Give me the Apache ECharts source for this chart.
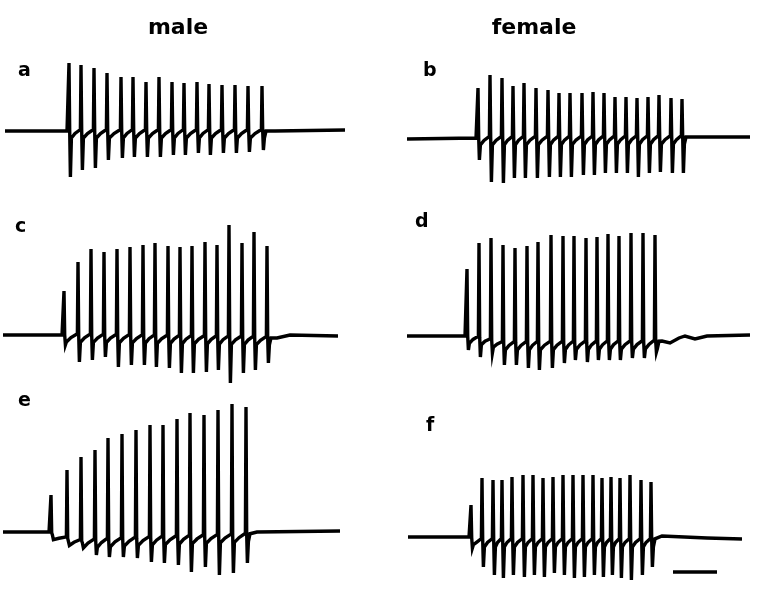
<!DOCTYPE html>
<html>
<head>
<meta charset="utf-8">
<script src="https://cdn.jsdelivr.net/npm/echarts@6/dist/echarts.min.js"></script>
<style>
html,body{margin:0;padding:0;background:#fff;}
#chart{width:757px;height:595px;}
</style>
</head>
<body>
<div id="chart"></div>
<script>
// ---- Data (time in arbitrary units from trace start; amplitude relative to resting baseline) ----
const columnTitles = ['male', 'female'];
const panelLabels = ['a', 'b', 'c', 'd', 'e', 'f'];

// panel a (male)
const a_times = [64, 76, 89, 102, 116, 128, 141, 154, 167, 179, 192, 204, 217, 230, 243, 257];
const a_up    = [68, 66, 63, 58, 54, 54, 49, 54, 49, 48, 49, 47, 46, 46, 45, 45];
const a_down  = [46, 39, 37, 29, 27, 26, 26, 26, 24, 24, 22, 24, 22, 22, 21, 19];
const a_base  = [[0, 0], [62, 0], [270, 0], [340, 1]];

// panel b (female)
const b_times = [71, 83, 95, 106, 117, 129, 141, 152, 163, 175, 186, 197, 208, 219, 230, 241, 252, 264, 275];
const b_up    = [50, 63, 60, 52, 55, 50, 48, 45, 45, 45, 46, 45, 41, 41, 40, 41, 43, 40, 39];
const b_down  = [22, 44, 45, 40, 40, 40, 39, 39, 39, 37, 37, 35, 35, 35, 39, 35, 34, 35, 35];
const b_base  = [[0, -1], [69, 0], [285, 1], [343, 1]];

// panel c (male)
const c_times = [59, 73, 86, 99, 112, 125, 138, 150, 163, 175, 187, 200, 212, 224, 237, 249, 262];
const c_up    = [44, 73, 86, 83, 86, 88, 90, 92, 89, 88, 89, 93, 90, 110, 92, 103, 89];
const c_down  = [10, 27, 25, 22, 32, 30, 30, 32, 33, 38, 38, 37, 35, 48, 38, 35, 28];
const c_base  = [[-2, 0], [57, 0], [272, -3], [285, 0], [333, -1]];

// panel d (female)
const d_times = [60, 72, 84, 96, 108, 120, 131, 144, 156, 167, 179, 190, 201, 212, 224, 236, 248];
const d_up    = [67, 93, 98, 91, 88, 90, 94, 101, 100, 100, 98, 99, 102, 100, 103, 103, 101];
const d_down  = [14, 21, 17, 29, 29, 32, 34, 32, 27, 24, 26, 24, 24, 24, 22, 22, 16];
const d_base  = [[0, 0], [58, 0], [75, -2], [95, -7], [240, -6], [255, -5], [263, -7], [272, -2], [278, 0], [288, -3], [300, 0], [343, 1]];

// panel e (male)
const e_times = [46, 62, 76, 90, 103, 117, 131, 145, 158, 172, 185, 199, 213, 227, 241];
const e_up    = [37, 62, 75, 82, 94, 98, 102, 107, 107, 113, 119, 117, 122, 128, 125];
const e_down  = [3, 5, 11, 23, 25, 25, 26, 30, 31, 33, 40, 35, 43, 41, 31];
const e_base  = [[-2, 0], [44, 0], [60, -6], [75, -9], [140, -6], [240, -3], [252, 0], [335, 1]];

// panel f (female)
const f_times = [64, 75, 86, 95, 105, 116, 126, 136, 146, 156, 166, 176, 186, 195, 204, 213, 223, 234, 244];
const f_up    = [32, 59, 57, 57, 60, 62, 62, 59, 60, 62, 62, 62, 62, 59, 60, 59, 62, 57, 55];
const f_down  = [11, 30, 38, 41, 38, 40, 38, 40, 36, 38, 41, 40, 38, 40, 38, 41, 43, 38, 30];
const f_base  = [[1, 0], [62, 0], [70, -3], [245, -3], [255, 1], [300, -1], [335, -2]];

// time scale bar (panel f)
const scaleBarStart = 266;
const scaleBarLength = 44;
const scaleBarLevel = -35;

// ---- build traces ----
function baseAt(knots, t) {
  if (t <= knots[0][0]) return knots[0][1];
  for (let i = 1; i < knots.length; i++) {
    if (t <= knots[i][0]) {
      const [t0, v0] = knots[i - 1], [t1, v1] = knots[i];
      return v0 + (v1 - v0) * (t - t0) / (t1 - t0);
    }
  }
  return knots[knots.length - 1][1];
}
function buildTrace(knots, times, ups, downs) {
  const pts = [];
  knots.forEach(k => { if (k[0] < times[0] - 1) pts.push(k); });
  for (let i = 0; i < times.length; i++) {
    const t = times[i];
    const b = baseAt(knots, t);
    pts.push([t - 0.6, b + 1.5]);
    pts.push([t, ups[i]]);
    pts.push([t + 0.7, b]);
    pts.push([t + 1.4, -downs[i]]);
    pts.push([t + 2.4, b - 7]);
    if (i + 1 < times.length) {
      const m = (t + times[i + 1]) / 2;
      pts.push([m, baseAt(knots, m) - 2.5]);
    }
  }
  const last = times[times.length - 1];
  pts.push([last + 4, baseAt(knots, last + 4)]);
  knots.forEach(k => { if (k[0] > last + 4) pts.push(k); });
  return pts;
}

const panels = [
  { base: 131, left: 5,   trace: buildTrace(a_base, a_times, a_up, a_down) },
  { base: 138, left: 407, trace: buildTrace(b_base, b_times, b_up, b_down) },
  { base: 335, left: 5,   trace: buildTrace(c_base, c_times, c_up, c_down) },
  { base: 336, left: 407, trace: buildTrace(d_base, d_times, d_up, d_down) },
  { base: 532, left: 5,   trace: buildTrace(e_base, e_times, e_up, e_down) },
  { base: 537, left: 407, trace: buildTrace(f_base, f_times, f_up, f_down) }
];

const grids = [], xAxes = [], yAxes = [], series = [];
panels.forEach((p, i) => {
  grids.push({ left: p.left, top: p.base - 130, width: 345, height: 180 });
  xAxes.push({ type: 'value', gridIndex: i, min: 0, max: 345, show: false });
  yAxes.push({ type: 'value', gridIndex: i, min: -50, max: 130, show: false });
  series.push({
    type: 'line', xAxisIndex: i, yAxisIndex: i, data: p.trace,
    showSymbol: false, symbol: 'none', silent: true, clip: false,
    lineStyle: { color: '#000', width: 3.4, join: 'miter' }, animation: false
  });
});
series.push({
  type: 'line', xAxisIndex: 5, yAxisIndex: 5,
  data: [[scaleBarStart, scaleBarLevel], [scaleBarStart + scaleBarLength, scaleBarLevel]],
  showSymbol: false, symbol: 'none', silent: true,
  lineStyle: { color: '#000', width: 3.5 }, animation: false
});

const labelPos = [[18, 81], [423, 81], [15, 237], [415, 232], [18, 411], [426, 436]];
const graphics = [
  { type: 'text', x: 178, y: 39, style: { text: columnTitles[0], font: 'bold 22px "DejaVu Sans"', fill: '#000', textAlign: 'center', textVerticalAlign: 'bottom' } },
  { type: 'text', x: 534, y: 39, style: { text: columnTitles[1], font: 'bold 22px "DejaVu Sans"', fill: '#000', textAlign: 'center', textVerticalAlign: 'bottom' } }
];
panelLabels.forEach((l, i) => {
  graphics.push({ type: 'text', x: labelPos[i][0], y: labelPos[i][1],
    style: { text: l, font: 'bold 19px "DejaVu Sans"', fill: '#000', textAlign: 'left', textVerticalAlign: 'bottom' } });
});

const chart = echarts.init(document.getElementById('chart'), null, { renderer: 'canvas' });
chart.setOption({
  backgroundColor: '#fff',
  animation: false,
  grid: grids, xAxis: xAxes, yAxis: yAxes, series: series,
  graphic: graphics
});
</script>
</body>
</html>
